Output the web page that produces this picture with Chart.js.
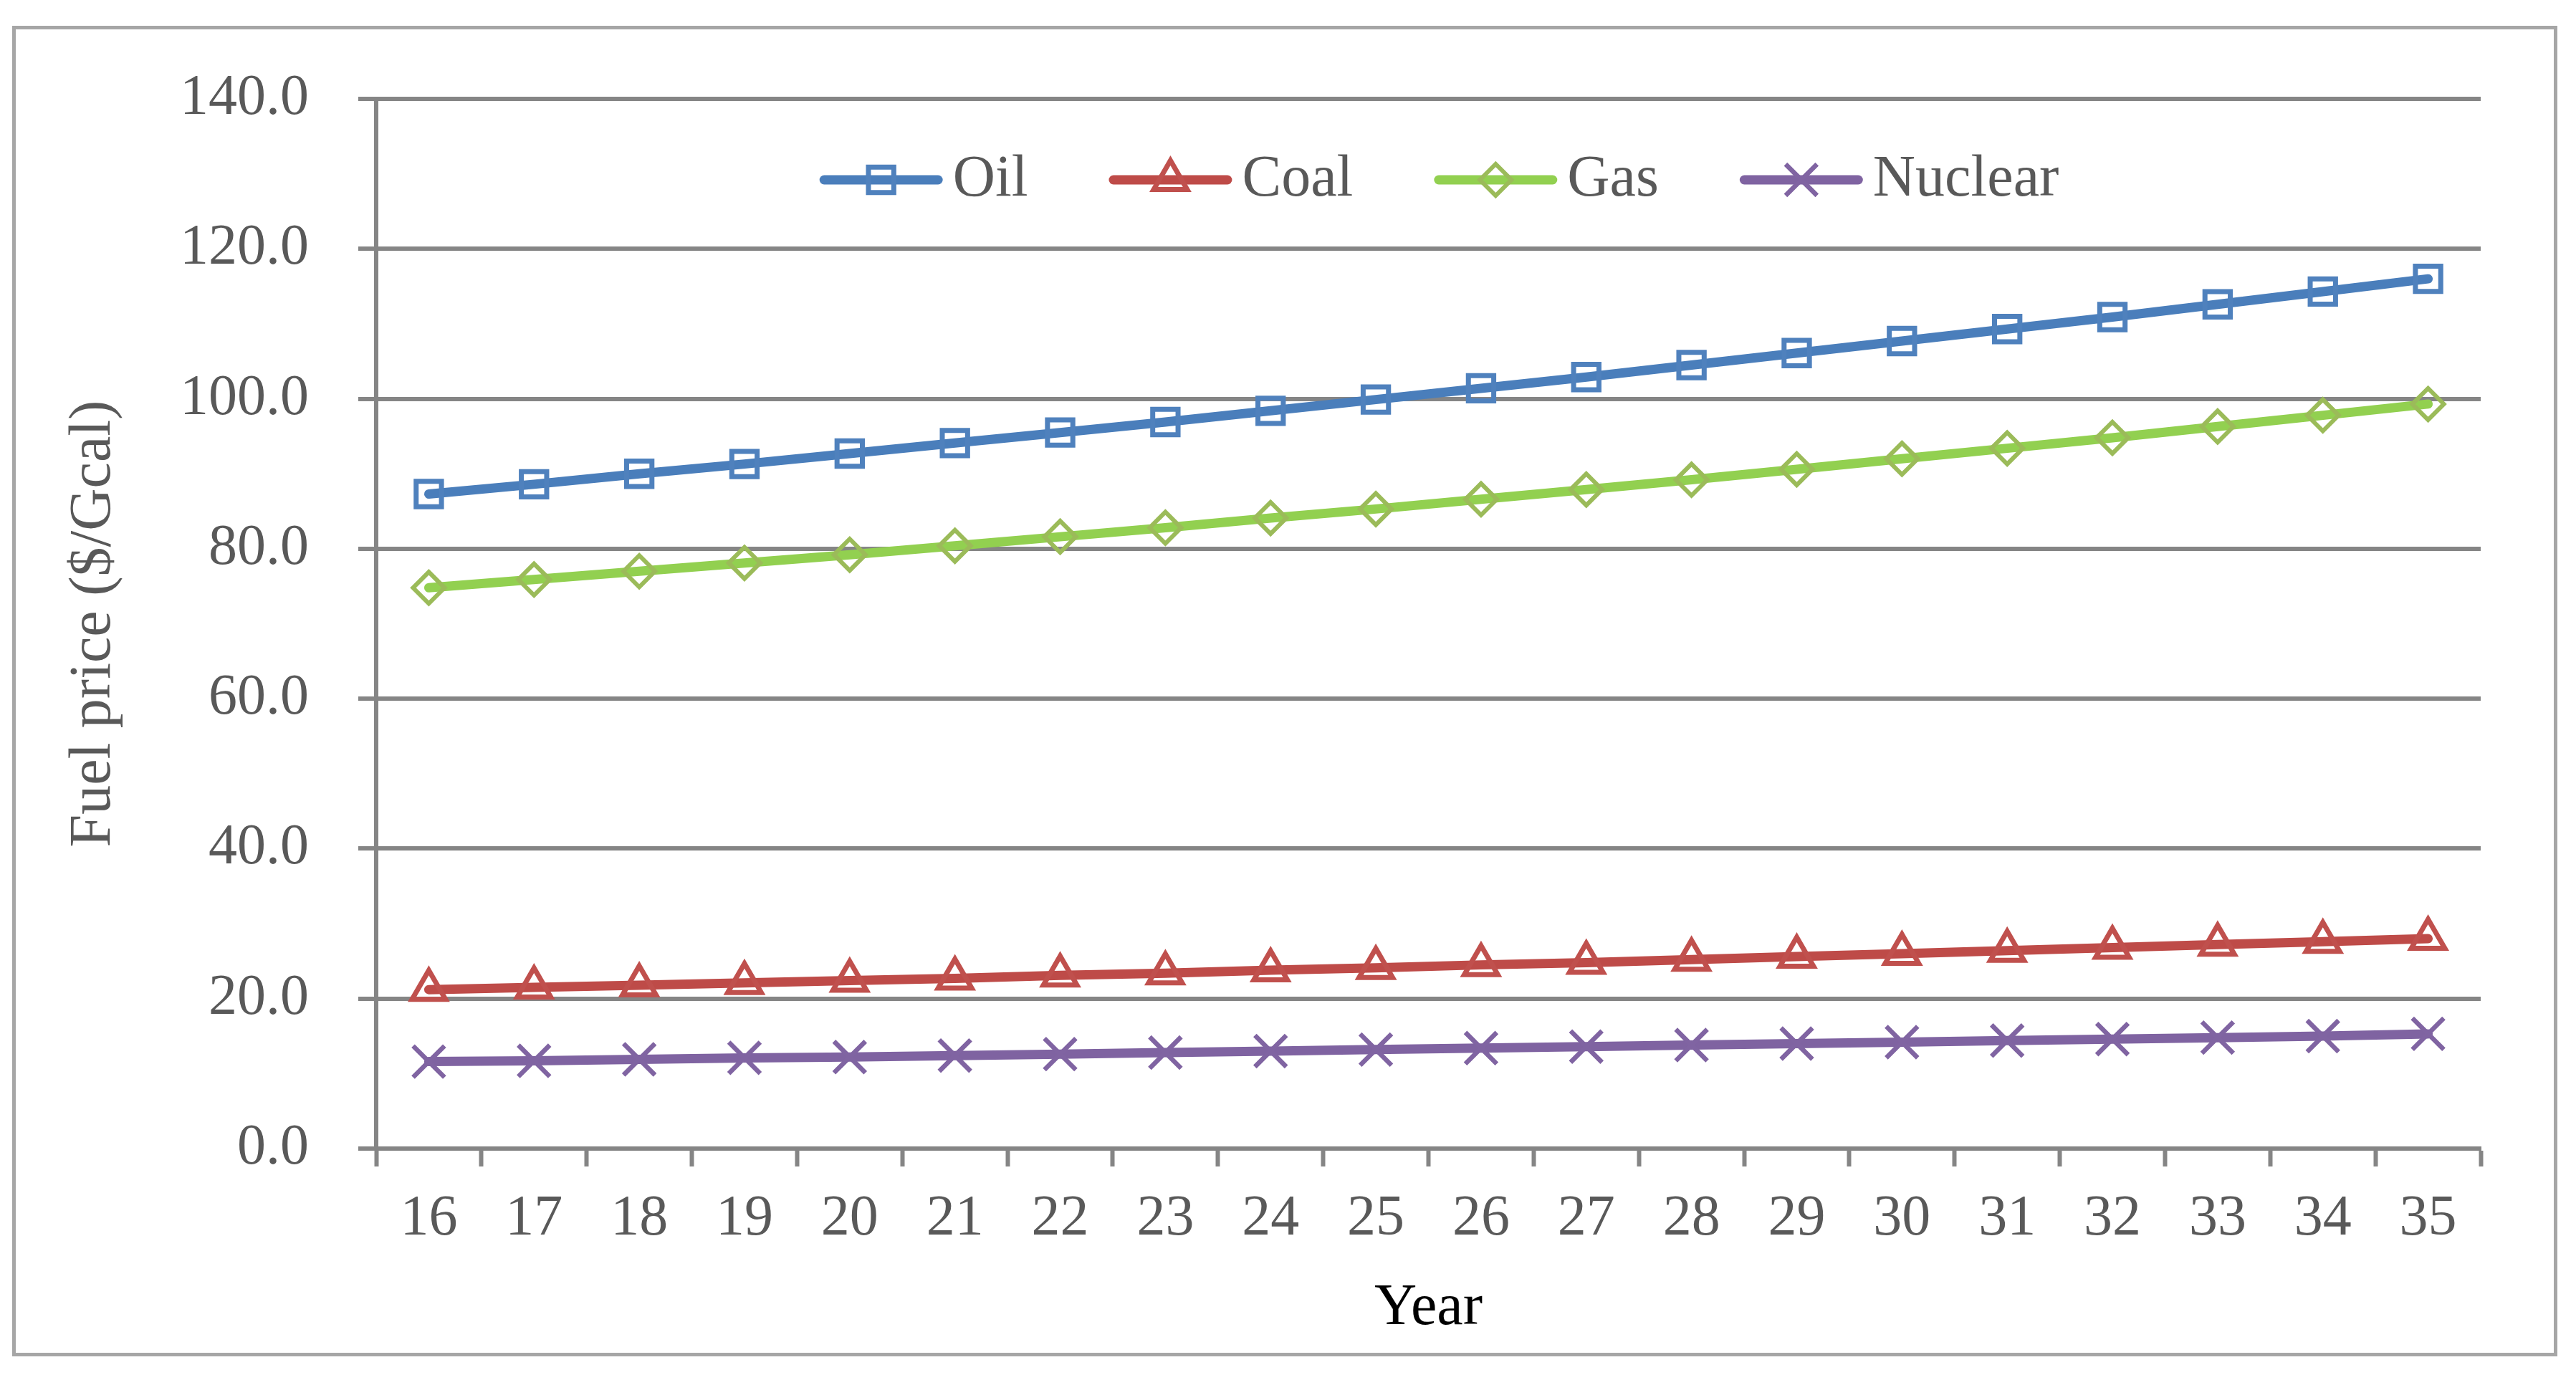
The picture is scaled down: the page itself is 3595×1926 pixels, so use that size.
<!DOCTYPE html>
<html>
<head>
<meta charset="utf-8">
<script src="https://cdn.jsdelivr.net/npm/chart.js@4/dist/chart.umd.min.js"></script>
<style>
    html, body { margin: 0; padding: 0; background: #fff; }
    #wrap { position: relative; width: 3595px; height: 1926px; }
    #chart { position: absolute; left: 0; top: 0; }
    #frame {
        position: absolute; left: 17px; top: 36px; width: 3552px; height: 1857px;
        box-sizing: border-box; border: 5px solid #a6a6a6; pointer-events: none;
    }
</style>
</head>
<body>
<div id="wrap">
    <canvas id="chart" width="3595" height="1926"></canvas>
    <div id="frame"></div>
</div>
<script>
const years = ['16', '17', '18', '19', '20', '21', '22', '23', '24', '25',
    '26', '27', '28', '29', '30', '31', '32', '33', '34', '35'];
const oil = [87.3, 88.6, 90.0, 91.3, 92.7, 94.1, 95.5, 96.9, 98.4, 99.9,
    101.4, 102.9, 104.5, 106.1, 107.7, 109.3, 110.9, 112.6, 114.3, 116.0];
const coal = [21.2, 21.5, 21.8, 22.1, 22.4, 22.7, 23.1, 23.4, 23.8, 24.1,
    24.5, 24.8, 25.2, 25.6, 26.0, 26.4, 26.8, 27.2, 27.6, 28.0];
const gas = [74.8, 75.9, 77.0, 78.1, 79.2, 80.4, 81.6, 82.8, 84.1, 85.3,
    86.6, 87.9, 89.2, 90.6, 92.0, 93.4, 94.8, 96.3, 97.8, 99.3];
const nuclear = [11.6, 11.7, 11.9, 12.1, 12.2, 12.4, 12.6, 12.8, 13.0, 13.2,
    13.4, 13.6, 13.8, 14.0, 14.2, 14.4, 14.6, 14.8, 15.0, 15.3];
const yMin = 0;
const yMax = 140;
const yStep = 20;

const SERIF = '"Liberation Serif", "Times New Roman", serif';
const AXIS_GREY = '#858585';
const TEXT_GREY = '#595959';
const LINE_W = 13;

const series = [
    { label: 'Oil', data: oil, line: '#4a7ebb', marker: '#4f81bd', style: 'rect', radius: 25, width: 7 },
    { label: 'Coal', data: coal, line: '#be4b48', marker: '#c0504d', style: 'triangle', radius: 27, width: 7 },
    { label: 'Gas', data: gas, line: '#92d050', marker: '#9bbb59', style: 'rectRot', radius: 22, width: 6 },
    { label: 'Nuclear', data: nuclear, line: '#7f63a1', marker: '#8064a2', style: 'crossRot', radius: 31, width: 6.5 },
];

function drawMarker(ctx, s, x, y) {
    ctx.save();
    ctx.strokeStyle = s.marker;
    ctx.fillStyle = 'rgba(0,0,0,0)';
    ctx.lineWidth = s.width;
    if (Chart.helpers && Chart.helpers.drawPoint) {
        Chart.helpers.drawPoint(ctx, { pointStyle: s.style, radius: s.radius, rotation: 0, borderWidth: s.width }, x, y);
        ctx.restore();
        return;
    }
    const r = s.radius;
    const h = r * Math.SQRT1_2;
    ctx.beginPath();
    if (s.style === 'rect') {
        ctx.rect(x - h, y - h, 2 * h, 2 * h);
    } else if (s.style === 'triangle') {
        ctx.moveTo(x, y - r);
        ctx.lineTo(x + r * 0.866, y + r / 2);
        ctx.lineTo(x - r * 0.866, y + r / 2);
        ctx.closePath();
    } else if (s.style === 'rectRot') {
        ctx.moveTo(x - r, y); ctx.lineTo(x, y - r); ctx.lineTo(x + r, y); ctx.lineTo(x, y + r);
        ctx.closePath();
    } else {
        ctx.moveTo(x - h, y - h); ctx.lineTo(x + h, y + h);
        ctx.moveTo(x + h, y - h); ctx.lineTo(x - h, y + h);
    }
    ctx.stroke();
    ctx.restore();
}

// spreadsheet style legend: line + marker swatch, label, one row inside the plot
const lineLegend = {
    id: 'lineLegend',
    afterDatasetsDraw(chart) {
        const { ctx, chartArea } = chart;
        const swatch = 172;
        const textGap = 14;
        const itemGap = 113;
        const fontSize = 82;

        ctx.save();
        ctx.font = `${fontSize}px ${SERIF}`;
        const widths = series.map((s) => ctx.measureText(s.label).width);
        const total = widths.reduce((a, w) => a + swatch + textGap + w, 0) + itemGap * (series.length - 1);
        let x = (chartArea.left + chartArea.right) / 2 - total / 2 + 15;
        const y = chartArea.top + 113;

        series.forEach((s, i) => {
            ctx.strokeStyle = s.line;
            ctx.lineWidth = LINE_W;
            ctx.lineCap = 'round';
            ctx.beginPath();
            ctx.moveTo(x + LINE_W / 2, y);
            ctx.lineTo(x + swatch - LINE_W / 2, y);
            ctx.stroke();
            ctx.lineCap = 'butt';
            drawMarker(ctx, s, x + swatch / 2, y);

            ctx.fillStyle = TEXT_GREY;
            ctx.textAlign = 'left';
            ctx.textBaseline = 'middle';
            ctx.fillText(s.label, x + swatch + textGap, y);
            x += swatch + textGap + widths[i] + itemGap;
        });
        ctx.restore();
    },
};

new Chart(document.getElementById('chart'), {
    type: 'line',
    data: {
        labels: years,
        datasets: series.map((s) => ({
            label: s.label,
            data: s.data,
            borderColor: s.line,
            backgroundColor: s.line,
            borderWidth: LINE_W,
            borderCapStyle: 'round',
            tension: 0,
            pointStyle: s.style,
            pointRadius: s.radius,
            pointBorderWidth: s.width,
            pointBorderColor: s.marker,
            pointBackgroundColor: 'rgba(0,0,0,0)',
        })),
    },
    plugins: [lineLegend],
    options: {
        responsive: false,
        devicePixelRatio: 1,
        animation: false,
        events: [],
        layout: {
            padding: { left: 0, top: 138, right: 133, bottom: 0 },
        },
        plugins: {
            tooltip: { enabled: false },
            legend: { display: false },
        },
        scales: {
            x: {
                type: 'category',
                offset: true,
                grid: {
                    offset: true,
                    drawOnChartArea: false,
                    drawTicks: true,
                    tickLength: 25,
                    tickWidth: 6,
                    tickColor: AXIS_GREY,
                },
                border: { color: AXIS_GREY, width: 6 },
                ticks: {
                    color: TEXT_GREY,
                    padding: 26,
                    maxRotation: 0,
                    autoSkip: false,
                    font: { family: SERIF, size: 80 },
                },
                title: {
                    display: true,
                    text: 'Year',
                    color: '#000000',
                    padding: { top: 0, bottom: 50 },
                    font: { family: SERIF, size: 82 },
                },
                afterFit: (scale) => { scale.height = 323; },
            },
            y: {
                min: yMin,
                max: yMax,
                grid: {
                    color: AXIS_GREY,
                    lineWidth: 6,
                    tickLength: 25,
                    tickColor: AXIS_GREY,
                },
                border: { color: AXIS_GREY, width: 6 },
                ticks: {
                    stepSize: yStep,
                    color: TEXT_GREY,
                    padding: 69,
                    font: { family: SERIF, size: 80 },
                    callback: (value) => Number(value).toFixed(1),
                },
                title: {
                    display: true,
                    text: 'Fuel price ($/Gcal)',
                    color: TEXT_GREY,
                    padding: { top: 82, bottom: 0 },
                    font: { family: SERIF, size: 82 },
                },
                afterFit: (scale) => { scale.width = 525; },
            },
        },
    },
});
</script>
</body>
</html>
